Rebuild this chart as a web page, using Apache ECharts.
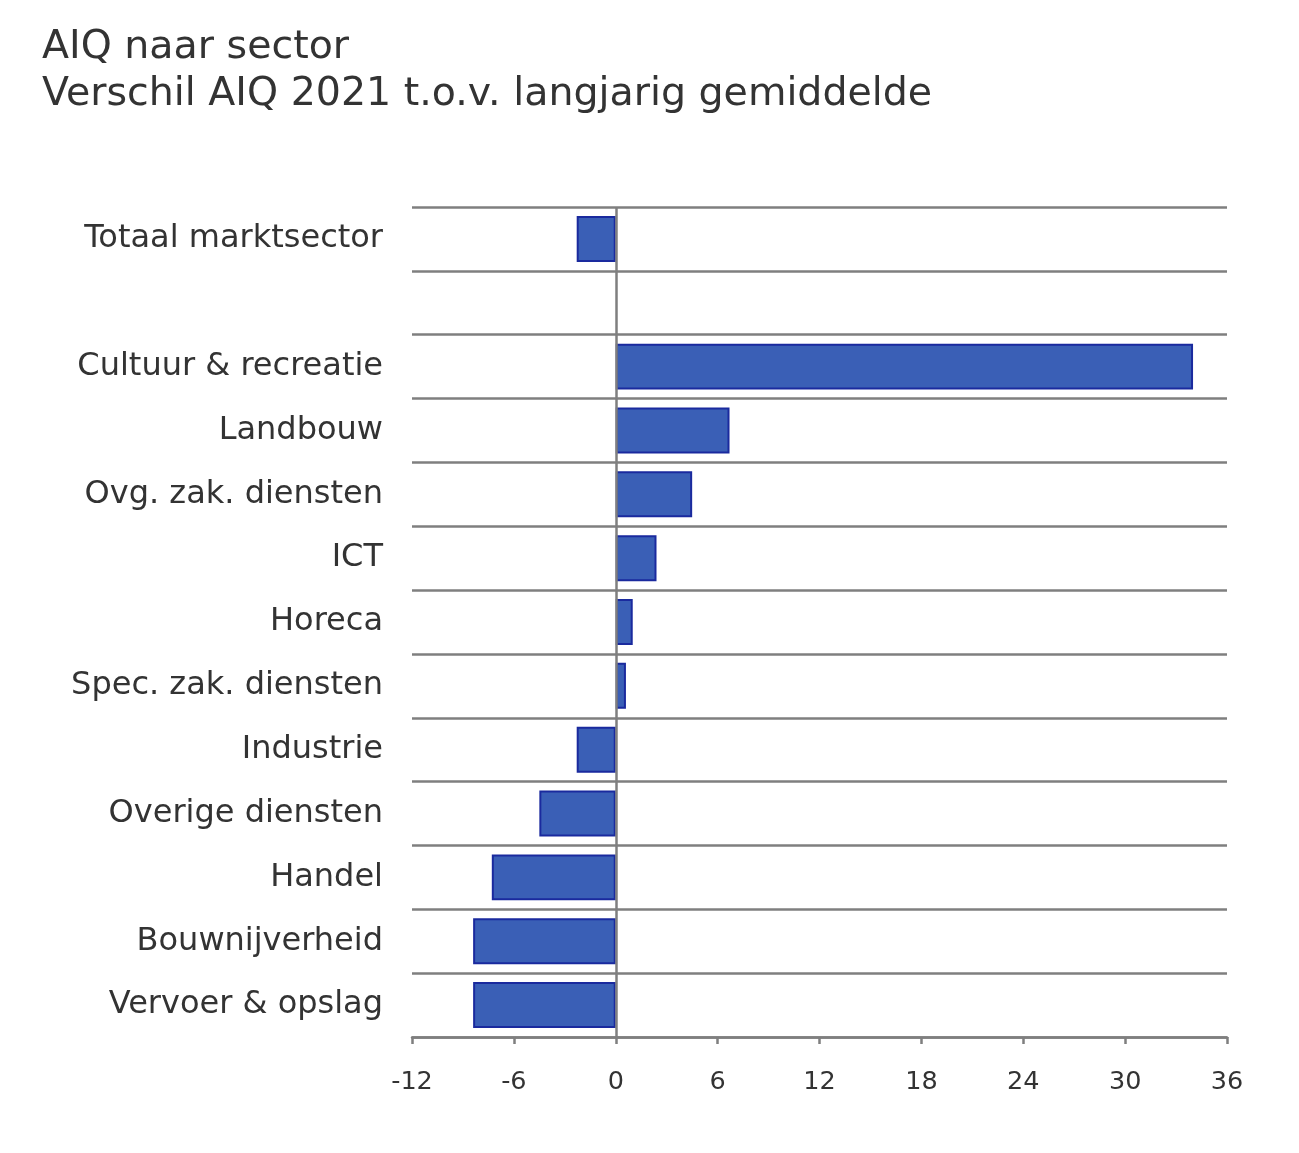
<!DOCTYPE html>
<html>
<head>
<meta charset="utf-8">
<script src="https://cdn.jsdelivr.net/npm/echarts@6/dist/echarts.min.js"></script>
<style>
  html, body { margin: 0; padding: 0; background: #fff; }
  #main { width: 1299px; height: 1153px; }
</style>
</head>
<body>
<div id="main"></div>
<script>
let chart = echarts.init(document.getElementById('main'));

// sectors top to bottom, empty entry is the gap row
let sectors = ['Totaal marktsector', '', 'Cultuur & recreatie', 'Landbouw', 'Ovg. zak. diensten', 'ICT',
    'Horeca', 'Spec. zak. diensten', 'Industrie', 'Overige diensten', 'Handel', 'Bouwnijverheid', 'Vervoer & opslag'];
let verschil = [-2.3, null, 34.0, 6.7, 4.5, 2.4, 1.0, 0.6, -2.3, -4.5, -7.3, -8.4, -8.4];

let gridGrey = '#7f7f7f';

let option = {
    animation: false,
    title: {
        text: 'AIQ naar sector\nVerschil AIQ 2021 t.o.v. langjarig gemiddelde',
        left: 37,
        top: 19,
        textStyle: {
            fontFamily: 'DejaVu Sans',
            fontWeight: 'normal',
            fontSize: 39.5,
            lineHeight: 47,
            color: '#333'
        }
    },
    grid: {
        left: 412,
        right: 72,
        top: 207,
        bottom: 116
    },
    xAxis: {
        type: 'value',
        min: -12,
        max: 36,
        interval: 6,
        axisLine: { show: true, lineStyle: { color: gridGrey, width: 2.5 } },
        axisTick: { show: true, inside: false, length: 7, lineStyle: { color: gridGrey, width: 2.5 } },
        splitLine: { show: false },
        axisLabel: {
            margin: 32,
            fontFamily: 'DejaVu Sans',
            fontSize: 25.5,
            color: '#333'
        }
    },
    yAxis: {
        type: 'category',
        inverse: true,
        data: sectors,
        axisLine: { show: false },
        axisTick: { show: false },
        splitLine: { show: true, lineStyle: { color: gridGrey, width: 2.5 } },
        axisLabel: {
            margin: 29,
            padding: [5, 0, 0, 0],
            fontFamily: 'DejaVu Sans',
            fontSize: 32,
            color: '#333'
        }
    },
    series: [{
        type: 'bar',
        data: verschil,
        barCategoryGap: '28%',
        itemStyle: {
            color: '#3a5fb6',
            borderColor: '#1a2a9e',
            borderWidth: 2
        },
        markLine: {
            silent: true,
            symbol: 'none',
            label: { show: false },
            lineStyle: { color: gridGrey, width: 2.5, type: 'solid' },
            data: [{ xAxis: 0 }]
        }
    }]
};

chart.setOption(option);
</script>
</body>
</html>
